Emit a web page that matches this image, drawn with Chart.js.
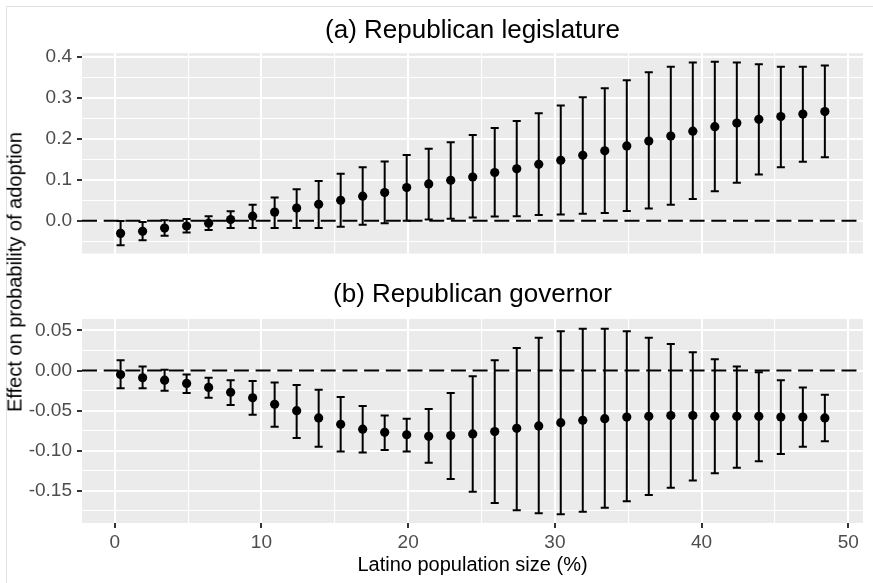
<!DOCTYPE html>
<html>
<head>
<meta charset="utf-8">
<script src="https://cdn.jsdelivr.net/npm/chart.js@4.4.0/dist/chart.umd.min.js"></script>
<style>
  body { margin: 0; background: #fff; }
  #wrap { position: relative; width: 873px; height: 583px; overflow: hidden; background: #fff; }
  #frame { position: absolute; left: 6px; top: 6px; width: 900px; height: 600px; border: 1px solid #e2e2e2; }
  canvas { position: absolute; left: 0; }
  #ytitle {
    position: absolute; left: 15px; top: 272px;
    transform: translate(-50%, -50%) rotate(-90deg);
    white-space: nowrap; font: 20px "Liberation Sans", Arial, sans-serif; color: #000;
  }
</style>
</head>
<body>
<div id="wrap">
  <div id="frame"></div>
  <canvas id="panelA" width="873" height="270" style="top:0"></canvas>
  <canvas id="panelB" width="873" height="313" style="top:270px"></canvas>
  <div id="ytitle"></div>
</div>
<script>
// latino population share (%) at which effects were evaluated
const xValues = [0.4, 1.9, 3.4, 4.9, 6.4, 7.9, 9.4, 10.9, 12.4, 13.9, 15.4, 16.9, 18.4, 19.9, 21.4, 22.9,
  24.4, 25.9, 27.4, 28.9, 30.4, 31.9, 33.4, 34.9, 36.4, 37.9, 39.4, 40.9, 42.4, 43.9, 45.4, 46.9, 48.4];

// (a) Republican legislature
const estA = [-0.031, -0.026, -0.018, -0.013, -0.006, 0.003, 0.011, 0.021, 0.031, 0.040, 0.050, 0.060,
  0.069, 0.081, 0.090, 0.099, 0.107, 0.118, 0.127, 0.138, 0.148, 0.160, 0.171, 0.183, 0.195, 0.207,
  0.219, 0.230, 0.239, 0.248, 0.255, 0.261, 0.267];
const lowA = [-0.060, -0.048, -0.037, -0.029, -0.023, -0.018, -0.018, -0.018, -0.018, -0.018, -0.015,
  -0.010, -0.006, 0.000, 0.003, 0.005, 0.008, 0.010, 0.011, 0.014, 0.015, 0.017, 0.019, 0.024, 0.030,
  0.039, 0.053, 0.072, 0.093, 0.113, 0.131, 0.144, 0.155];
const upA = [-0.001, -0.003, 0.001, 0.004, 0.011, 0.023, 0.039, 0.057, 0.077, 0.097, 0.115, 0.131,
  0.145, 0.161, 0.176, 0.192, 0.210, 0.227, 0.244, 0.263, 0.282, 0.302, 0.324, 0.344, 0.363, 0.377,
  0.387, 0.389, 0.387, 0.383, 0.377, 0.377, 0.380];

// (b) Republican governor
const estB = [-0.005, -0.009, -0.012, -0.016, -0.021, -0.027, -0.034, -0.042, -0.050, -0.059, -0.067,
  -0.073, -0.077, -0.080, -0.082, -0.081, -0.079, -0.076, -0.072, -0.069, -0.065, -0.062, -0.060,
  -0.058, -0.057, -0.056, -0.056, -0.057, -0.057, -0.057, -0.058, -0.058, -0.059];
const lowB = [-0.022, -0.022, -0.025, -0.028, -0.034, -0.043, -0.055, -0.070, -0.084, -0.095, -0.101,
  -0.102, -0.099, -0.101, -0.115, -0.135, -0.151, -0.165, -0.174, -0.178, -0.179, -0.176, -0.171,
  -0.163, -0.155, -0.146, -0.137, -0.128, -0.121, -0.113, -0.104, -0.095, -0.088];
const upB = [0.013, 0.005, 0.001, -0.005, -0.009, -0.012, -0.013, -0.015, -0.018, -0.024, -0.033,
  -0.044, -0.056, -0.060, -0.048, -0.028, -0.007, 0.013, 0.028, 0.041, 0.049, 0.052, 0.052, 0.049,
  0.041, 0.033, 0.023, 0.014, 0.005, -0.002, -0.012, -0.021, -0.030];

const xMajor = [0, 10, 20, 30, 40, 50];
const xMinor = [5, 15, 25, 35, 45];
const yMajorA = [0, 0.1, 0.2, 0.3, 0.4];
const yMinorA = [-0.05, 0.05, 0.15, 0.25, 0.35];
const yMajorB = [-0.15, -0.10, -0.05, 0, 0.05];
const yMinorB = [-0.175, -0.125, -0.075, -0.025, 0.025];

const titleA = '(a) Republican legislature';
const titleB = '(b) Republican governor';
const xTitle = 'Latino population size (%)';
const yTitle = 'Effect on probability of adoption';

document.getElementById('ytitle').textContent = yTitle;

const FONT = '"Liberation Sans", Arial, sans-serif';
const CAP_WIDTH = 0.55; // error bar cap width in x units

const isIn = (list, v) => list.some(m => Math.abs(m - v) < 1e-9);

function panelPlugin(title, titleY, low, high) {
  return {
    id: 'ggPanel',
    beforeDraw(chart) {
      const { ctx, chartArea: a } = chart;
      ctx.save();
      ctx.fillStyle = '#EBEBEB';
      ctx.fillRect(a.left, a.top, a.right - a.left, a.bottom - a.top);
      ctx.restore();
    },
    beforeDatasetsDraw(chart) {
      const { ctx, chartArea: a, scales: { x, y } } = chart;
      ctx.save();
      ctx.beginPath();
      ctx.rect(a.left, a.top, a.right - a.left, a.bottom - a.top);
      ctx.clip();
      ctx.strokeStyle = '#000';
      ctx.lineWidth = 2;

      // dashed reference line at zero
      const y0 = y.getPixelForValue(0);
      ctx.setLineDash([15, 6.7]);
      ctx.beginPath();
      ctx.moveTo(a.left, y0);
      ctx.lineTo(a.right, y0);
      ctx.stroke();
      ctx.setLineDash([]);

      // error bars
      const hw = x.getPixelForValue(CAP_WIDTH / 2) - x.getPixelForValue(0);
      ctx.beginPath();
      xValues.forEach((xv, i) => {
        const px = x.getPixelForValue(xv);
        const lo = y.getPixelForValue(low[i]);
        const hi = y.getPixelForValue(high[i]);
        ctx.moveTo(px, lo); ctx.lineTo(px, hi);
        ctx.moveTo(px - hw, lo); ctx.lineTo(px + hw, lo);
        ctx.moveTo(px - hw, hi); ctx.lineTo(px + hw, hi);
      });
      ctx.stroke();
      ctx.restore();

      // panel title
      ctx.save();
      ctx.fillStyle = '#000';
      ctx.font = '26px ' + FONT;
      ctx.textAlign = 'center';
      ctx.textBaseline = 'middle';
      ctx.fillText(title, (a.left + a.right) / 2, titleY);
      ctx.restore();
    }
  };
}

function makeScales(yMin, yMax, yMajor, yMinor, digits, showX) {
  const gridWidth = list => c => (c.tick && isIn(list, c.tick.value) ? 2 : 1.1);
  const tickColor = list => c => (c.tick && isIn(list, c.tick.value) ? '#333333' : 'rgba(0,0,0,0)');
  return {
    x: {
      type: 'linear',
      min: -2.23,
      max: 51.0,
      afterBuildTicks: s => { s.ticks = [...xMajor, ...xMinor].sort((p, q) => p - q).map(v => ({ value: v })); },
      afterFit: s => { s.height = showX ? 60 : 0; },
      border: { display: false },
      grid: {
        color: '#FFFFFF',
        lineWidth: gridWidth(xMajor),
        drawTicks: showX,
        tickLength: 5,
        tickWidth: 2,
        tickColor: tickColor(xMajor)
      },
      ticks: {
        display: showX,
        autoSkip: false,
        maxRotation: 0,
        padding: 3,
        color: '#4D4D4D',
        font: { family: FONT, size: 19 },
        callback: v => (isIn(xMajor, v) ? String(v) : '')
      },
      title: {
        display: showX,
        text: xTitle,
        color: '#000',
        font: { family: FONT, size: 20 },
        padding: { top: 0, bottom: 6 }
      }
    },
    y: {
      type: 'linear',
      min: yMin,
      max: yMax,
      afterBuildTicks: s => { s.ticks = [...yMajor, ...yMinor].sort((p, q) => p - q).map(v => ({ value: v })); },
      afterFit: s => { s.width = 82; },
      border: { display: false },
      grid: {
        color: '#FFFFFF',
        lineWidth: gridWidth(yMajor),
        tickLength: 5,
        tickWidth: 2,
        tickColor: tickColor(yMajor)
      },
      ticks: {
        autoSkip: false,
        padding: 5,
        color: '#4D4D4D',
        font: { family: FONT, size: 19 },
        callback: v => (isIn(yMajor, v) ? v.toFixed(digits) : '')
      }
    }
  };
}

function makePanel(canvasId, est, low, high, title, titleY, yMin, yMax, yMajor, yMinor, digits, showX, padding) {
  return new Chart(document.getElementById(canvasId), {
    type: 'scatter',
    data: {
      datasets: [{
        data: xValues.map((x, i) => ({ x: x, y: est[i] })),
        pointRadius: 4.6,
        pointHoverRadius: 4.6,
        backgroundColor: '#000',
        borderWidth: 0
      }]
    },
    options: {
      responsive: false,
      animation: false,
      devicePixelRatio: 1,
      layout: { padding: padding },
      plugins: { legend: { display: false }, tooltip: { enabled: false } },
      scales: makeScales(yMin, yMax, yMajor, yMinor, digits, showX)
    },
    plugins: [panelPlugin(title, titleY, low, high)]
  });
}

makePanel('panelA', estA, lowA, upA, titleA, 31, -0.0805, 0.4104, yMajorA, yMinorA, 1, false,
  { top: 53, left: 0, right: 10, bottom: 14 });
makePanel('panelB', estB, lowB, upB, titleB, 25, -0.19, 0.0643, yMajorB, yMinorB, 2, true,
  { top: 49, left: 0, right: 10, bottom: 0 });
</script>
</body>
</html>
